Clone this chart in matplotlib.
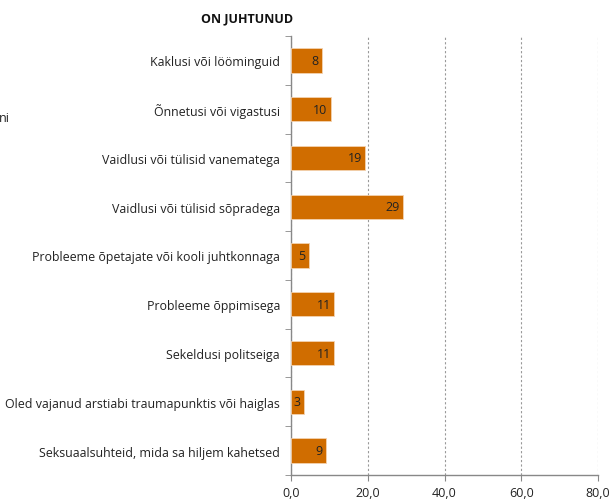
import matplotlib.pyplot as plt
from matplotlib.ticker import FuncFormatter

# ==================== DATA ====================
categories = [
    "Kaklusi või lööminguid",
    "Õnnetusi või vigastusi",
    "Vaidlusi või tülisid vanematega",
    "Vaidlusi või tülisid sõpradega",
    "Probleeme õpetajate või kooli juhtkonnaga",
    "Probleeme õppimisega",
    "Sekeldusi politseiga",
    "Oled vajanud arstiabi traumapunktis või haiglas",
    "Seksuaalsuhteid, mida sa hiljem kahetsed",
]
values = [8.0, 10.3, 19.4, 29.3, 4.7, 11.3, 11.3, 3.4, 9.2]
title = "ON JUHTUNUD"
xticks = [0, 20, 40, 60, 80]
# ==============================================

plt.rcParams["font.family"] = ["Open Sans", "DejaVu Sans"]

bar_color = "#D06D00"
axis_gray = "#888888"

fig = plt.figure(figsize=(6.15, 5.02), dpi=100)
ax = fig.add_axes([0.4732, 0.0518, 0.4992, 0.8745])

y_pos = list(range(len(categories)))
bars = ax.barh(y_pos, values, height=0.5, color=bar_color,
               edgecolor="#F3D2B0", linewidth=0.6, zorder=3)

for b, v in zip(bars, values):
    ax.text(b.get_width() - 0.9, b.get_y() + b.get_height() / 2, f"{v:.0f}",
            ha="right", va="center", fontsize=9, color="#222222", zorder=4)

ax.set_ylim(len(categories) - 0.5, -0.5)
ax.set_xlim(0, 80)
ax.set_yticks(y_pos)
ax.set_yticklabels(categories, fontsize=8.9, color="#222222")
ax.set_yticks([i + 0.5 for i in range(-1, len(categories))], minor=True)
ax.tick_params(axis="y", which="major", length=0, pad=8)
ax.tick_params(axis="y", which="minor", length=4, color=axis_gray, direction="out")

ax.set_xticks(xticks)
ax.xaxis.set_major_formatter(FuncFormatter(lambda v, pos: f"{v:.1f}".replace(".", ",")))
ax.tick_params(axis="x", labelsize=9, length=4, color=axis_gray, colors="#222222", pad=4)
for lbl in ax.get_xticklabels():
    lbl.set_color("#222222")

ax.grid(True, axis="x", linestyle=(0, (2, 2)), color="#999999", linewidth=0.8, zorder=0)

for side in ["top", "right"]:
    ax.spines[side].set_visible(False)
for side in ["left", "bottom"]:
    ax.spines[side].set_color(axis_gray)
    ax.spines[side].set_linewidth(1.0)

fig.text(0.402, 0.963, title, ha="center", va="center", fontsize=9,
         fontweight="bold", color="#111111")
fig.text(-0.002, 0.763, "ni", ha="left", va="center", fontsize=9, color="#222222")

plt.savefig("out.png", dpi=100)
plt.close()
